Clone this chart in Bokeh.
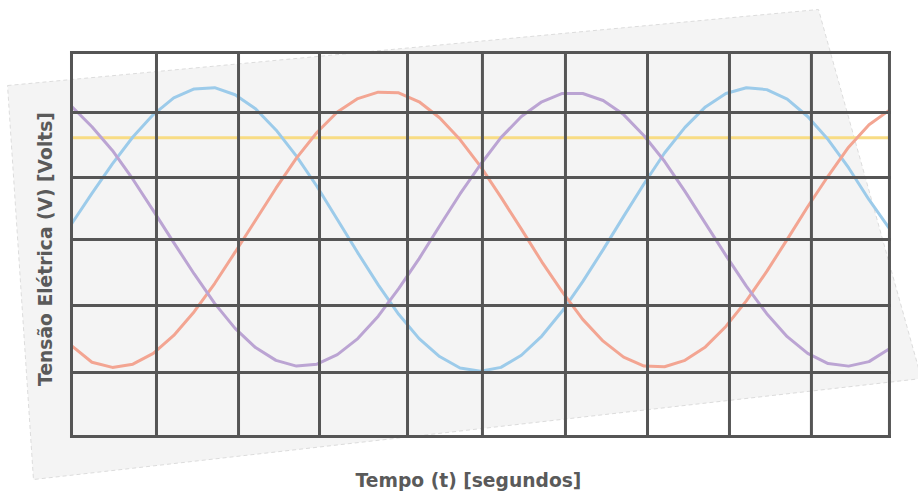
from bokeh.plotting import figure
from bokeh.models import Range1d, Label
from bokeh.embed import file_html
from bokeh.resources import INLINE

# ---- data ----
tempo = [0.0, 0.25, 0.5, 0.75, 1.0, 1.25, 1.5, 1.75, 2.0, 2.25, 2.5, 2.75, 3.0, 3.25,
         3.5, 3.75, 4.0, 4.25, 4.5, 4.75, 5.0, 5.25, 5.5, 5.75, 6.0, 6.25, 6.5, 6.75,
         7.0, 7.25, 7.5, 7.75, 8.0, 8.25, 8.5, 8.75, 9.0, 9.25, 9.5, 9.75, 10.0]

tensao_azul = [3.32, 3.80, 4.26, 4.68, 5.03, 5.29, 5.43, 5.45, 5.34, 5.12, 4.79, 4.38,
               3.91, 3.39, 2.87, 2.37, 1.91, 1.53, 1.25, 1.07, 1.02, 1.08, 1.27, 1.57,
               1.96, 2.42, 2.92, 3.44, 3.95, 4.43, 4.83, 5.15, 5.36, 5.45, 5.42, 5.27,
               5.00, 4.64, 4.20, 3.70, 3.25]

tensao_laranja = [1.42, 1.16, 1.08, 1.13, 1.30, 1.58, 1.95, 2.39, 2.88, 3.38, 3.88, 4.35,
                  4.75, 5.07, 5.28, 5.38, 5.37, 5.23, 4.98, 4.64, 4.22, 3.74, 3.24, 2.73,
                  2.26, 1.83, 1.49, 1.24, 1.10, 1.09, 1.19, 1.40, 1.72, 2.12, 2.58, 3.08,
                  3.59, 4.07, 4.52, 4.87, 5.10]

tensao_roxo = [5.16, 4.84, 4.47, 4.02, 3.53, 3.03, 2.54, 2.08, 1.69, 1.39, 1.19, 1.10,
               1.13, 1.28, 1.53, 1.88, 2.31, 2.78, 3.29, 3.79, 4.25, 4.67, 5.00, 5.23,
               5.36, 5.36, 5.25, 5.03, 4.70, 4.30, 3.83, 3.33, 2.83, 2.35, 1.92, 1.56,
               1.30, 1.14, 1.10, 1.17, 1.37]

tensao_continua = 4.67

grade_x = [0.0, 1.039, 2.042, 3.032, 4.108, 5.024, 6.039, 7.042, 8.044, 9.046, 10.0]
grade_y = [0.0, 1.0, 2.047, 3.078, 4.047, 5.062, 6.0]

# paper sheet outline (decoration)
folha_x = [-0.782, 9.132, 10.391, -0.465]
folha_y = [5.484, 6.672, 0.906, -0.672]

titulo_x = "Tempo (t) [segundos]"
titulo_y = "Tensão Elétrica (V) [Volts]"

# ---- figure ----
p = figure(width=918, height=491, output_backend="svg", toolbar_location=None,
           x_range=Range1d(-0.868, 10.355), y_range=Range1d(-0.859, 6.8125),
           min_border=0, min_border_left=0, min_border_right=0,
           min_border_top=0, min_border_bottom=0)
p.axis.visible = False
p.grid.visible = False
p.outline_line_color = None
p.background_fill_color = "white"
p.border_fill_color = "white"

# paper
p.patch(folha_x, folha_y, fill_color="#f4f4f4", line_color="#dcdcdc",
        line_width=1, line_dash="4 3")

x_min, x_max = grade_x[0], grade_x[-1]
y_min, y_max = grade_y[0], grade_y[-1]

# curves
p.line([x_min, x_max], [tensao_continua, tensao_continua], line_color="#f8dc84", line_width=3)
p.line(tempo, tensao_azul, line_color="#9ccbea", line_width=3)
p.line(tempo, tensao_laranja, line_color="#f3a592", line_width=3)
p.line(tempo, tensao_roxo, line_color="#bba4d3", line_width=3)

# grid
p.segment(x0=grade_x, x1=grade_x, y0=[y_min] * len(grade_x), y1=[y_max] * len(grade_x),
          line_color="#555555", line_width=3, line_cap="square")
p.segment(x0=[x_min] * len(grade_y), x1=[x_max] * len(grade_y), y0=grade_y, y1=grade_y,
          line_color="#555555", line_width=3, line_cap="square")

# axis titles
p.add_layout(Label(x=4.853, y=-0.68, text=titulo_x, text_align="center",
                   text_baseline="alphabetic", text_font="DejaVu Sans", text_font_style="bold",
                   text_font_size="18.7px", text_color="#5a5a5a"))
p.add_layout(Label(x=-0.318, y=2.93, text=titulo_y, angle=1.5708, angle_units="rad",
                   text_align="center", text_baseline="alphabetic", text_font="DejaVu Sans",
                   text_font_style="bold", text_font_size="18.7px", text_color="#5a5a5a"))

open("out.html", "w").write(file_html(p, INLINE))
